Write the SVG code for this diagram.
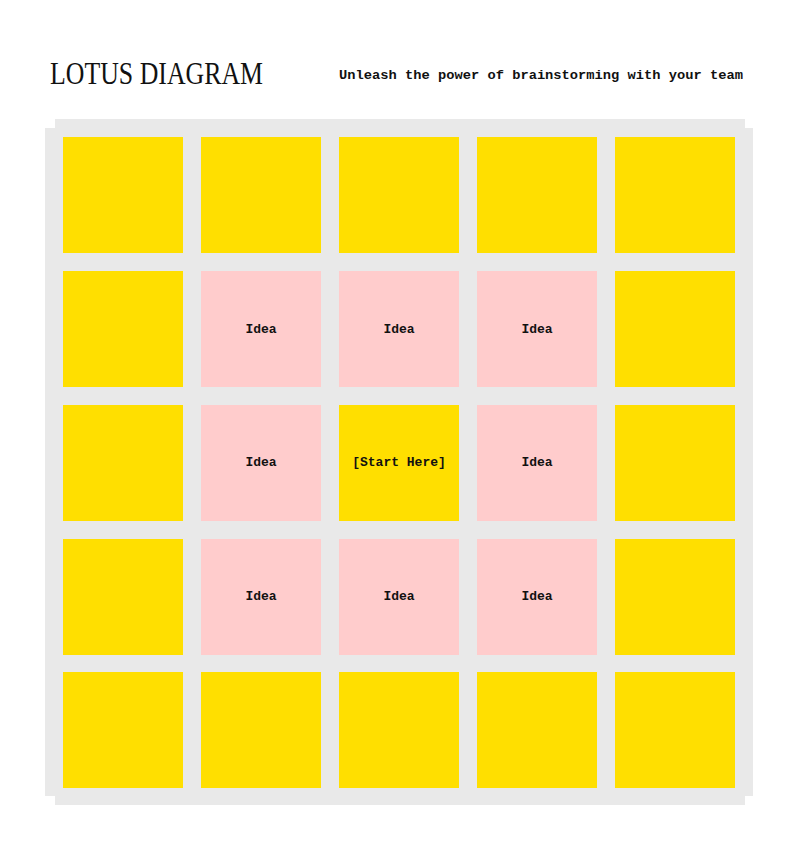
<svg xmlns="http://www.w3.org/2000/svg" width="800" height="851" viewBox="0 0 800 851">
<style>
.bg{fill:#e9e9e9}
.y{fill:#ffdf00}
.p{fill:#ffcccc}
.t{font-family:"Liberation Mono","DejaVu Sans Mono",monospace;font-weight:bold;font-size:13px;fill:#111;text-anchor:middle}
</style>
<rect width="800" height="851" fill="#ffffff"/>
<text x="50" y="84" font-family="Liberation Serif, serif" font-size="31" fill="#111" textLength="213" lengthAdjust="spacingAndGlyphs">LOTUS DIAGRAM</text>
<text x="339" y="79" font-family="Liberation Mono, monospace" font-weight="bold" font-size="13.5" fill="#111" textLength="404" lengthAdjust="spacingAndGlyphs">Unleash the power of brainstorming with your team</text>
<g id="board">
<rect class="bg" x="55" y="119" width="690" height="686"/>
<rect class="bg" x="45" y="128" width="708" height="668"/>
</g>
<g id="r1">
<g id="c11"><rect class="y" x="63" y="137" width="120" height="116"/></g>
<g id="c12"><rect class="y" x="201" y="137" width="120" height="116"/></g>
<g id="c13"><rect class="y" x="339" y="137" width="120" height="116"/></g>
<g id="c14"><rect class="y" x="477" y="137" width="120" height="116"/></g>
<g id="c15"><rect class="y" x="615" y="137" width="120" height="116"/></g>
</g>
<g id="r2">
<g id="c21"><rect class="y" x="63" y="271" width="120" height="116"/></g>
<g id="c22"><rect class="p" x="201" y="271" width="120" height="116"/><text class="t" x="261" y="333">Idea</text></g>
<g id="c23"><rect class="p" x="339" y="271" width="120" height="116"/><text class="t" x="399" y="333">Idea</text></g>
<g id="c24"><rect class="p" x="477" y="271" width="120" height="116"/><text class="t" x="537" y="333">Idea</text></g>
<g id="c25"><rect class="y" x="615" y="271" width="120" height="116"/></g>
</g>
<g id="r3">
<g id="c31"><rect class="y" x="63" y="405" width="120" height="116"/></g>
<g id="c32"><rect class="p" x="201" y="405" width="120" height="116"/><text class="t" x="261" y="466">Idea</text></g>
<g id="c33"><rect class="y" x="339" y="405" width="120" height="116"/><text class="t" x="399" y="466">[Start Here]</text></g>
<g id="c34"><rect class="p" x="477" y="405" width="120" height="116"/><text class="t" x="537" y="466">Idea</text></g>
<g id="c35"><rect class="y" x="615" y="405" width="120" height="116"/></g>
</g>
<g id="r4">
<g id="c41"><rect class="y" x="63" y="539" width="120" height="116"/></g>
<g id="c42"><rect class="p" x="201" y="539" width="120" height="116"/><text class="t" x="261" y="600">Idea</text></g>
<g id="c43"><rect class="p" x="339" y="539" width="120" height="116"/><text class="t" x="399" y="600">Idea</text></g>
<g id="c44"><rect class="p" x="477" y="539" width="120" height="116"/><text class="t" x="537" y="600">Idea</text></g>
<g id="c45"><rect class="y" x="615" y="539" width="120" height="116"/></g>
</g>
<g id="r5">
<g id="c51"><rect class="y" x="63" y="672" width="120" height="116"/></g>
<g id="c52"><rect class="y" x="201" y="672" width="120" height="116"/></g>
<g id="c53"><rect class="y" x="339" y="672" width="120" height="116"/></g>
<g id="c54"><rect class="y" x="477" y="672" width="120" height="116"/></g>
<g id="c55"><rect class="y" x="615" y="672" width="120" height="116"/></g>
</g>
<g id="connectors"/>
</svg>
